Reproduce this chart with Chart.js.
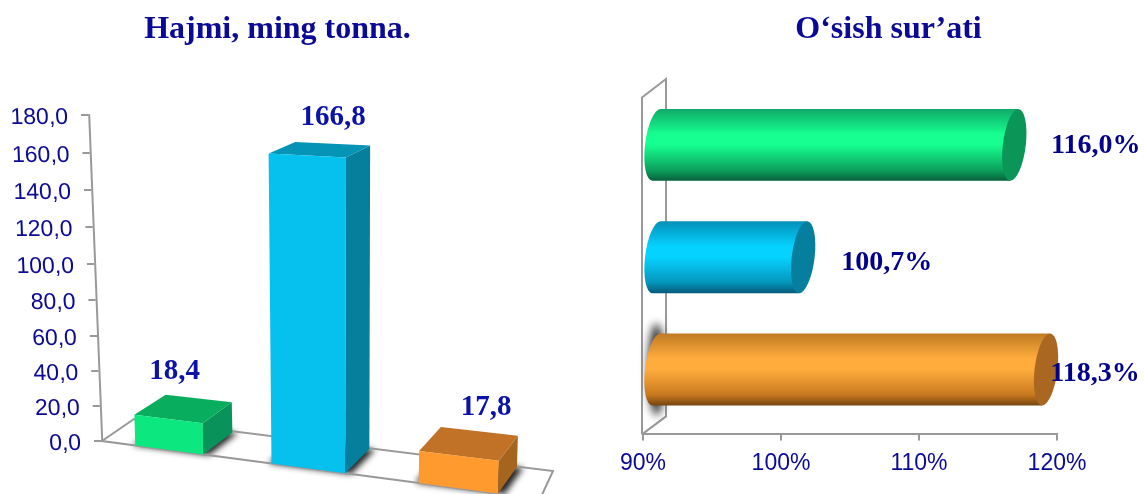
<!DOCTYPE html>
<html>
<head>
<meta charset="utf-8">
<style>
  html, body { margin: 0; padding: 0; background: #fff; overflow: hidden; }
  #wrap { position: relative; width: 1144px; height: 494px; overflow: hidden; }
  canvas { position: absolute; top: 0; }
  #volumeChart { left: 0; }
  #growthChart { left: 610px; }
</style>
<script src="https://cdn.jsdelivr.net/npm/chart.js@4/dist/chart.umd.min.js"></script>
</head>
<body>
<div id="wrap">
  <canvas id="volumeChart" width="555" height="494"></canvas>
  <canvas id="growthChart" width="557" height="494"></canvas>
</div>
<script>
const categories = ['1', '2', '3'];
const volumeValues = [18.4, 166.8, 17.8];
const growthValues = [116.0, 100.7, 118.3];
const volumeTitle = 'Hajmi, ming tonna.';
const growthTitle = 'O‘sish sur’ati';

const frontColors = ['#0CE780', '#06C0EE', '#FF9A2E'];
const topColors = ['#08AE5E', '#0594B6', '#C17226'];
const sideColors = ['#09925A', '#067F9C', '#A5651F'];
const tubeTop = ['#10A868', '#0590B8', '#C07A25'];
const tubeMid = ['#16FF90', '#05D2FF', '#FFAC3C'];
const tubeLow = ['#0BA05C', '#0596BC', '#C9791F'];
const tubeEdge = ['#07603A', '#045A78', '#744510'];
const capColors = ['#0B9658', '#067F9E', '#A96722'];

const axisGrey = '#999999';
const tickBlue = '#0A0A96';
const labelBlue = '#0A12A8';
const sansFont = '"Liberation Sans", Arial, sans-serif';
const serifFont = '"Liberation Serif", "Times New Roman", serif';

const comma = v => v.toFixed(1).replace('.', ',');

// y axis of the left chart: perspective makes the ticks closer at the bottom, and the axis leans
class SlantScale extends Chart.LinearScale {
    static id = 'slant';
    static defaults = Chart.LinearScale.defaults;

    getPixelForValue(value) {
        const p = super.getPixelForValue(value);
        const mid = (this.top + this.bottom) / 2;
        const t = (p - mid) / ((this.bottom - this.top) / 2);
        return p + 4 * (1 - t * t);
    }

    draw(chartArea) {
        const ctx = this.ctx;
        ctx.save();
        ctx.transform(1, 0, 0.04, 1, 5.25 - this.bottom * 0.04, 0);
        super.draw(chartArea);
        ctx.restore();
    }
}

function polygon(ctx, points, color) {
    ctx.beginPath();
    points.forEach((p, i) => (i ? ctx.lineTo(p[0], p[1]) : ctx.moveTo(p[0], p[1])));
    ctx.closePath();
    ctx.fillStyle = color;
    ctx.fill();
}

// left chart: bars stand on a floor that runs downhill to the right
class Box3dController extends Chart.BarController {
    static id = 'box3d';
    static defaults = Chart.BarController.defaults;
    static overrides = Chart.BarController.overrides;

    draw() {
        const ctx = this.chart.ctx;
        const area = this.chart.chartArea;
        const ds = this.getDataset();
        const cx = (area.left + area.right) / 2;
        const half = (area.right - area.left) / 3;
        const axisX = area.left + 5.25;

        const bend = x => x - 5.5 * (1 - Math.pow((x - cx) / half, 2));
        const floorY = x => area.bottom + 0.1325 * (x - axisX);
        const corner = (x, h) => {
            const bx = bend(x);
            const lift = h * (1 + 0.00027 * (bx - 150));
            return [bx + (bx - 330) * 0.00016 * lift, floorY(bx) - lift, bx, lift];
        };
        const back = p => {
            const dx = 29 - (p[2] - 203) * 0.034;
            const dy = (22 + (p[2] - 203) * 0.015) * (1 - p[3] / 311 * 0.5);
            return [p[0] + dx, p[1] - dy, p[2], p[3]];
        };

        // soft shadow on the floor, wider than the bar so it shows on both sides
        const meta = this._cachedMeta;
        ctx.save();
        ctx.filter = 'blur(3px)';
        meta.data.forEach(el => {
            const l = el.x - el.width / 2 - 3, r = el.x + el.width / 2 + 6;
            const bl = corner(l, 0), br = corner(r, 0);
            polygon(ctx, [bl, br, back(br), back(bl)], '#222');
        });
        ctx.restore();

        // floor outline goes over the shadow
        const floor = [
            [axisX, area.bottom],
            [axisX + 32, area.bottom - 22],
            [axisX + 451, area.bottom + 30],
            [axisX + 438, area.bottom + 58]
        ];
        ctx.save();
        ctx.beginPath();
        floor.forEach((p, i) => (i ? ctx.lineTo(p[0], p[1]) : ctx.moveTo(p[0], p[1])));
        ctx.closePath();
        ctx.strokeStyle = axisGrey;
        ctx.lineWidth = 2;
        ctx.stroke();
        ctx.restore();

        const shifts = ds.labelShift;
        meta.data.forEach((el, i) => {
            const h = el.base - el.y;
            const l = el.x - el.width / 2, r = el.x + el.width / 2;
            const bl = corner(l, 0), br = corner(r, 0);
            const tl = corner(l, h), tr = corner(r, h);
            polygon(ctx, [br, tr, back(tr), back(br)], sideColors[i]);
            polygon(ctx, [tl, tr, back(tr), back(tl)], topColors[i]);
            polygon(ctx, [bl, br, tr, tl], frontColors[i]);

            const bt = back(tl), bt2 = back(tr);
            const mx = (tl[0] + tr[0] + bt[0] + bt2[0]) / 4;
            const my = (tl[1] + tr[1] + bt[1] + bt2[1]) / 4;
            ctx.font = 'bold 29px ' + serifFont;
            ctx.fillStyle = labelBlue;
            ctx.textAlign = 'center';
            ctx.textBaseline = 'middle';
            ctx.fillText(comma(ds.data[i]), mx + shifts[i][0], my + shifts[i][1]);
        });
    }
}

// right chart: skewed cylinders lying along the value axis
class CylinderController extends Chart.BarController {
    static id = 'cylinder';
    static defaults = Chart.BarController.defaults;
    static overrides = Chart.BarController.overrides;

    draw() {
        const ctx = this.chart.ctx;
        const area = this.chart.chartArea;
        const ds = this.getDataset();
        const depthX = 12.5, depthY = -8.75, rx = 11.5, skew = 4;

        // wall outline
        ctx.save();
        ctx.strokeStyle = axisGrey;
        ctx.lineWidth = 2;
        ctx.beginPath();
        ctx.moveTo(area.left - 1, area.bottom);
        ctx.lineTo(area.left - 1, area.top);
        ctx.lineTo(area.left + 23, area.top - 18.5);
        ctx.lineTo(area.left + 23, area.bottom - 18);
        ctx.lineTo(area.left - 1, area.bottom);
        ctx.stroke();
        ctx.restore();

        this._cachedMeta.data.forEach((el, i) => {
            const cy = el.y + depthY;
            const ry = el.height / 2;
            const left = el.base + depthX, right = el.x + depthX;
            const top = cy - ry, bottom = cy + ry;

            if (ds.wallShadow[i]) {
                ctx.save();
                ctx.filter = 'blur(4px)';
                ctx.fillStyle = '#333';
                ctx.beginPath();
                ctx.ellipse(left, cy, rx - 3, ry + 10, 0, 0, Math.PI * 2);
                ctx.fill();
                ctx.restore();
            }

            const grad = ctx.createLinearGradient(0, top, 0, bottom);
            grad.addColorStop(0, tubeTop[i]);
            grad.addColorStop(0.35, tubeMid[i]);
            grad.addColorStop(0.5, tubeMid[i]);
            grad.addColorStop(0.85, tubeLow[i]);
            grad.addColorStop(1, tubeEdge[i]);

            // body with the rounded far end
            ctx.save();
            ctx.transform(1, 0, -skew / ry, 1, skew / ry * cy, 0);
            ctx.beginPath();
            ctx.moveTo(left, top);
            ctx.lineTo(right, top);
            ctx.lineTo(right, bottom);
            ctx.lineTo(left, bottom);
            ctx.ellipse(left, cy, rx, ry, 0, Math.PI / 2, Math.PI * 1.5);
            ctx.closePath();
            ctx.fillStyle = grad;
            ctx.fill();

            // end cap
            ctx.beginPath();
            ctx.ellipse(right, cy, rx, ry, 0, 0, Math.PI * 2);
            ctx.fillStyle = capColors[i];
            ctx.fill();
            ctx.restore();

            ctx.font = 'bold 28px ' + serifFont;
            ctx.fillStyle = '#00008B';
            ctx.textAlign = 'center';
            ctx.textBaseline = 'middle';
            ctx.fillText(comma(ds.data[i]) + '%', el.x + ds.labelShift[i][0], cy + ds.labelShift[i][1]);
        });
    }
}

// the layout padding pulls the title off centre, so put it back in the middle of the canvas
const centerTitle = {
    id: 'centerTitle',
    afterLayout(chart) {
        chart.titleBlock.left = 0;
        chart.titleBlock.right = chart.width;
    }
};

Chart.register(SlantScale, Box3dController, CylinderController, centerTitle);

new Chart(document.getElementById('volumeChart'), {
    type: 'box3d',
    data: {
        labels: categories,
        datasets: [{
            data: volumeValues,
            clip: false,
            barPercentage: 0.51,
            categoryPercentage: 1,
            labelShift: [[-9, -37], [13, -32], [17, -36]]
        }]
    },
    options: {
        responsive: false,
        animation: false,
        devicePixelRatio: 1,
        layout: { padding: { right: 24.75, bottom: 53 } },
        plugins: {
            legend: { display: false },
            tooltip: { enabled: false },
            title: {
                display: true,
                text: volumeTitle,
                color: tickBlue,
                font: { family: serifFont, size: 32, weight: 'bold' },
                padding: { top: 10.8, bottom: 65.8 }
            }
        },
        scales: {
            x: { display: false },
            y: {
                type: 'slant',
                min: 0,
                max: 180,
                afterFit: s => { s.width = 96.75; },
                border: { color: axisGrey, width: 2 },
                grid: { drawOnChartArea: false, color: axisGrey, lineWidth: 2, tickLength: 8 },
                ticks: {
                    stepSize: 20,
                    padding: 13,
                    labelOffset: 2.5,
                    color: tickBlue,
                    font: { family: sansFont, size: 23 },
                    callback: v => comma(v)
                }
            }
        }
    }
});

new Chart(document.getElementById('growthChart'), {
    type: 'cylinder',
    data: {
        labels: categories,
        datasets: [{
            data: growthValues,
            base: 90,
            clip: false,
            barPercentage: 0.64,
            categoryPercentage: 1,
            labelShift: [[94, 1], [96, 5.5], [61.5, 4.5]],
            wallShadow: [false, false, true]
        }]
    },
    options: {
        indexAxis: 'y',
        responsive: false,
        animation: false,
        devicePixelRatio: 1,
        layout: { padding: { left: 33, right: 110, bottom: 8 } },
        plugins: {
            legend: { display: false },
            tooltip: { enabled: false },
            title: {
                display: true,
                text: growthTitle,
                color: tickBlue,
                font: { family: serifFont, size: 32, weight: 'bold' },
                padding: { top: 10.8, bottom: 48.3 }
            }
        },
        scales: {
            y: { display: false },
            x: {
                min: 90,
                max: 120,
                border: { color: axisGrey, width: 2 },
                grid: { drawOnChartArea: false, color: axisGrey, lineWidth: 2, tickLength: 6 },
                ticks: {
                    stepSize: 10,
                    padding: 9,
                    maxRotation: 0,
                    color: tickBlue,
                    font: { family: sansFont, size: 23 },
                    callback: v => v + '%'
                }
            }
        }
    }
});
</script>
</body>
</html>
